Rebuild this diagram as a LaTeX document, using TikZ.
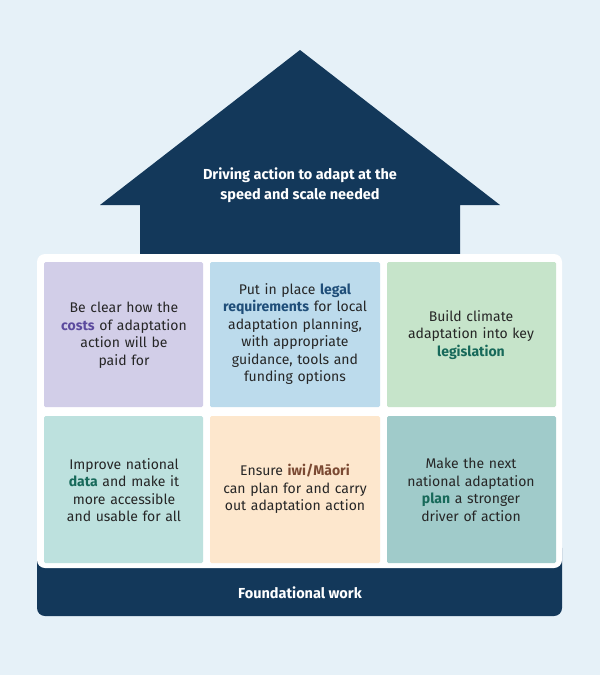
\documentclass[tikz,border=0pt]{standalone}
\usepackage{fontspec}
\setmainfont{Fira Sans}
\usetikzlibrary{positioning}
\definecolor{navy}{HTML}{13385A}
\definecolor{bgblue}{HTML}{E6F1F8}
\definecolor{cellpurple}{HTML}{D2CEE8}
\definecolor{cellblue}{HTML}{BCDBEC}
\definecolor{cellgreen}{HTML}{C6E4CA}
\definecolor{cellmint}{HTML}{BDE1DE}
\definecolor{cellpeach}{HTML}{FDE7CD}
\definecolor{cellteal}{HTML}{A0CBCA}
\definecolor{accpurple}{HTML}{5B4A9E}
\definecolor{accnavy}{HTML}{1F4E79}
\definecolor{accgreen}{HTML}{17695A}
\definecolor{accbrown}{HTML}{7B4A33}
\tikzset{
  cell/.style={align=center, text width=150pt,
    font=\fontsize{14}{17.5}\selectfont, text=black!85, inner sep=0pt},
  label/.style={text=white, font=\bfseries\fontsize{14.5}{20}\selectfont, align=center}
}
\newcommand{\hl}[2]{\textcolor{#1}{\bfseries #2}}
\begin{document}
\begin{tikzpicture}[x=1pt,y=-1pt]
  \fill[bgblue] (0,0) rectangle (600,675);
  % roof and house body
  \fill[navy] (300,50) -- (500,205) -- (460,205) -- (460,258) -- (140,258) -- (140,205) -- (100,205) -- cycle;
  \fill[navy, rounded corners=8pt] (37,540) rectangle (562,616);
  \fill[white, rounded corners=8pt] (37,254) rectangle (562,568);
  \node[label] (roof) at (300,185) {Driving action to adapt at the\\speed and scale needed};
  \node[label] (base) at (300,593) {Foundational work};
  % top row
  \fill[cellpurple, rounded corners=1.5pt] (44,262) rectangle (203,407);
  \fill[cellblue, rounded corners=1.5pt] (210,262) rectangle (380,407);
  \fill[cellgreen, rounded corners=1.5pt] (387,262) rectangle (556,407);
  % bottom row
  \fill[cellmint, rounded corners=1.5pt] (44,416) rectangle (203,563);
  \fill[cellpeach, rounded corners=1.5pt] (210,416) rectangle (380,563);
  \fill[cellteal, rounded corners=1.5pt] (387,416) rectangle (556,563);
  \node[cell] (costs) at (124,335) {Be clear how the\\\hl{accpurple}{costs} of adaptation\\action will be\\paid for};
  \node[cell] (legal) at (295,334) {Put in place \hl{accnavy}{legal}\\\hl{accnavy}{requirements} for local\\adaptation planning,\\with appropriate\\guidance, tools and\\funding options};
  \node[cell] (legis) at (471,335) {Build climate\\adaptation into key\\\hl{accgreen}{legislation}};
  \node[cell] (data) at (124,490) {Improve national\\\hl{accgreen}{data} and make it\\more accessible\\and usable for all};
  \node[cell] (iwi) at (295,489) {Ensure \hl{accbrown}{iwi/Māori}\\can plan for and carry\\out adaptation action};
  \node[cell] (plan) at (471,490) {Make the next\\national adaptation\\\hl{accgreen}{plan} a stronger\\driver of action};
\end{tikzpicture}
\end{document}
